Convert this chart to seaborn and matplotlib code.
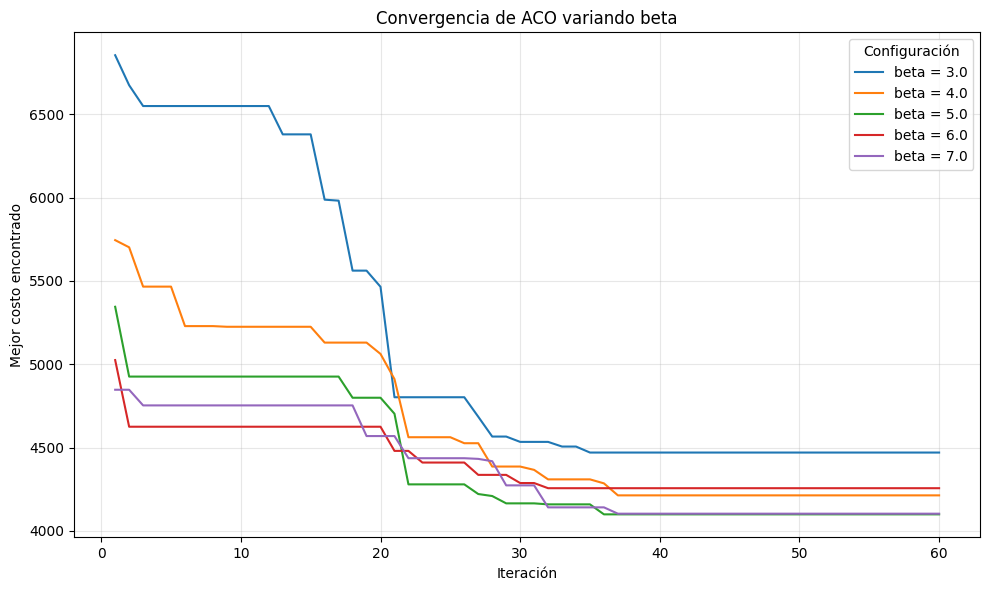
import numpy as np
import pandas as pd
import seaborn as sns
import matplotlib.pyplot as plt

# Best cost found per iteration (1..60)
iterations = list(range(1, 61))

beta_3 = [6855, 6675, 6550, 6550, 6550, 6550, 6550, 6550, 6550, 6550,
          6550, 6550, 6380, 6380, 6380, 5988, 5982, 5562, 5562, 5465,
          4802, 4802, 4802, 4802, 4802, 4802, 4685, 4566, 4566, 4534,
          4534, 4534, 4506, 4506, 4470] + [4470] * 25

beta_4 = [5745, 5702, 5466, 5466, 5466, 5229, 5229, 5229, 5225, 5225,
          5225, 5225, 5225, 5225, 5225, 5130, 5130, 5130, 5130, 5062,
          4911, 4562, 4562, 4562, 4562, 4526, 4526, 4386, 4386, 4386,
          4366, 4309, 4309, 4309, 4309, 4285, 4213] + [4213] * 23

beta_5 = [5345, 4926, 4926, 4926, 4926, 4926, 4926, 4926, 4926, 4926,
          4926, 4926, 4926, 4926, 4926, 4926, 4926, 4799, 4799, 4799,
          4703, 4279, 4279, 4279, 4279, 4279, 4221, 4209, 4165, 4165,
          4165, 4159, 4159, 4159, 4159, 4099] + [4099] * 24

beta_6 = [5025, 4625, 4625, 4625, 4625, 4625, 4625, 4625, 4625, 4625,
          4625, 4625, 4625, 4625, 4625, 4625, 4625, 4625, 4625, 4625,
          4480, 4480, 4410, 4410, 4410, 4410, 4336, 4336, 4336, 4287,
          4287, 4256] + [4256] * 28

beta_7 = [4847, 4847, 4753, 4753, 4753, 4753, 4753, 4753, 4753, 4753,
          4753, 4753, 4753, 4753, 4753, 4753, 4753, 4753, 4569, 4569,
          4569, 4436, 4436, 4436, 4436, 4436, 4432, 4418, 4273, 4273,
          4273, 4141, 4141, 4141, 4141, 4141, 4103] + [4103] * 23

config_labels = ["beta = 3.0", "beta = 4.0", "beta = 5.0", "beta = 6.0", "beta = 7.0"]
series = [beta_3, beta_4, beta_5, beta_6, beta_7]

# ------------------------------
# Build long dataframe
# ------------------------------
rows = []
for label, values in zip(config_labels, series):
    for it, v in zip(iterations, values):
        rows.append([it, v, label])
df = pd.DataFrame(rows, columns=["Iteracion", "Costo", "Config"])

# ------------------------------
# Draw
# ------------------------------
fig, ax = plt.subplots(figsize=(9.89, 5.9), dpi=100)
sns.lineplot(data=df, x="Iteracion", y="Costo", hue="Config",
             hue_order=config_labels, palette="tab10", linewidth=1.5, ax=ax)

ax.set_title("Convergencia de ACO variando beta")
ax.set_xlabel("Iteración")
ax.set_ylabel("Mejor costo encontrado")
ax.grid(True, alpha=0.3)
ax.legend(title="Configuración", loc="upper right")

fig.subplots_adjust(left=0.0748, right=0.9912, top=0.9453, bottom=0.0893)
plt.savefig("out.png", dpi=100)
